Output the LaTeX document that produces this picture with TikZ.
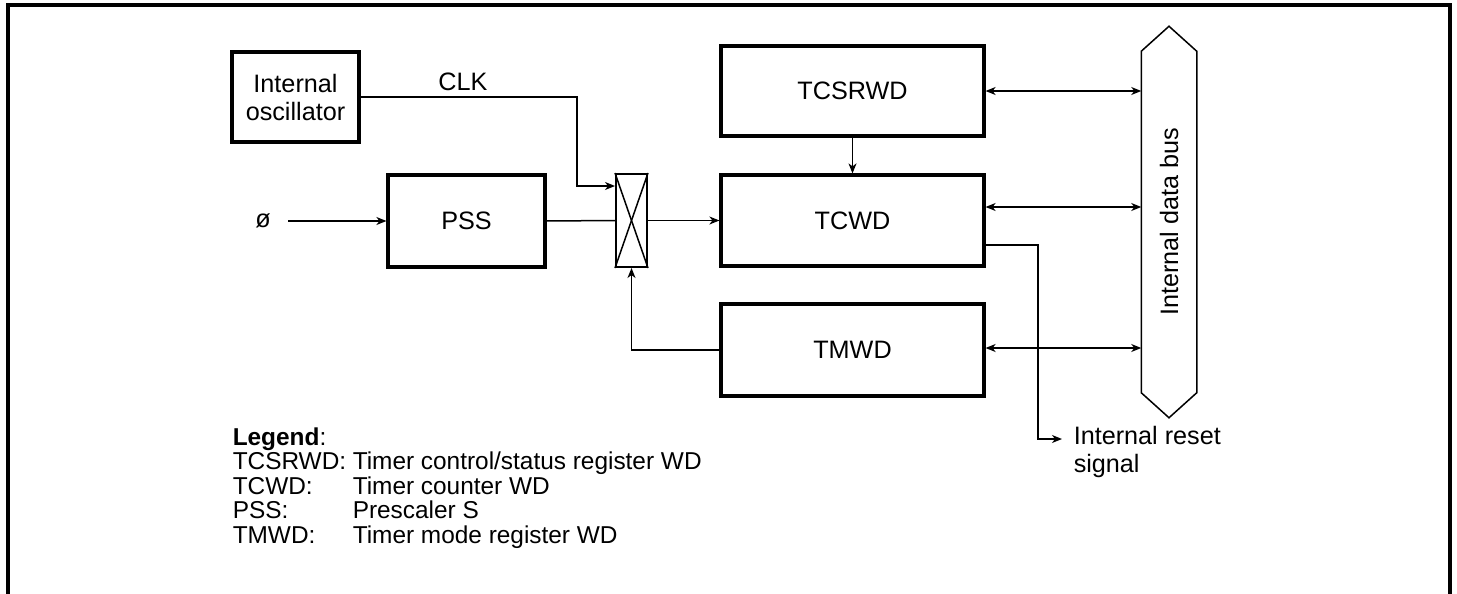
\documentclass[tikz,border=0pt]{standalone}
\usepackage{fontspec}
\setmainfont{Liberation Sans}
\usetikzlibrary{arrows.meta,calc}

\begin{document}
\begin{tikzpicture}[x=0.5pt,y=-0.5pt,line width=0.75pt,
  font=\fontsize{12.6}{14}\selectfont,
  blk/.style={draw,line width=1.6pt,inner sep=0pt,align=center},
  arr/.style={-{Stealth[length=5pt,width=4pt,inset=1.5pt]}},
  darr/.style={{Stealth[length=5pt,width=4pt,inset=1.5pt]}-{Stealth[length=5pt,width=4pt,inset=1.5pt]}},
  leg/.style={anchor=base west,inner sep=0pt,font=\fontsize{12.2}{14}\selectfont}]
\useasboundingbox (0,0) rectangle (1457,594);
% outer frame, open at the bottom
\draw[line width=2pt] (8,594) -- (8,5) -- (1450,5) -- (1450,594);

% blocks
\node[blk,minimum width=63.5pt,minimum height=45pt] (osc) at (295.5,97) {Internal\\oscillator};
\node[blk,minimum width=78.5pt,minimum height=46pt] (pss) at (466.5,221) {PSS};
\node[draw,line width=1pt,minimum width=15.5pt,minimum height=46.5pt,inner sep=0pt] (mux) at (631.5,220.5) {};
\node[blk,minimum width=131.5pt,minimum height=45pt] (tcsr) at (852.5,91) {TCSRWD};
\node[blk,minimum width=131.5pt,minimum height=45.5pt] (tcwd) at (852.5,220.5) {TCWD};
\node[blk,minimum width=131.5pt,minimum height=46pt] (tmwd) at (852.5,350) {TMWD};
\node[minimum width=27pt,minimum height=170pt,inner sep=0pt] (bus) at (1169,222) {\rotatebox{90}{Internal data bus}};
\node (phi) at (263,221) {ø};
\node (clk) at (463,82) {CLK};
\node[anchor=west,align=left,inner sep=0pt] (rsttxt) at (1073,452) {Internal reset\\signal};

% selector cross
\draw (mux.north west) -- (mux.south east);
\draw (mux.north east) -- (mux.south west);

% data bus outline
\draw (bus.south west) -- (bus.north west) -- ($(bus.north)+(0,-25)$) -- (bus.north east)
  -- (bus.south east) -- ($(bus.south)+(0,25)$) -- cycle;

% connections
\coordinate (clkin) at ($(mux.north west)+(0,13)$);
\coordinate (rst) at (1062,439);
\draw[arr] (osc.east) -| ([xshift=-19pt]clkin) -- (clkin);
\draw[arr] ([xshift=5pt]phi.east) -- (pss.west);
\draw (pss.east) -- (mux.west);
\draw[arr] (mux.east) -- (tcwd.west);
\draw[arr] (tmwd.west) -| (mux.south);
\draw[arr] (tcsr.south) -- (tcwd.north);
\draw[darr] (tcsr.east) -- (bus.west |- tcsr.east);
\draw[darr] ($(tcwd.east)+(0,-13.5)$) -- (bus.west |- {$(tcwd.east)+(0,-13.5)$});
\draw[darr] ($(tmwd.east)+(0,-2)$) -- (bus.west |- {$(tmwd.east)+(0,-2)$});
\draw[arr] ($(tcwd.east)+(0,24.5)$) -| ([xshift=-12pt]rst) -- (rst);

% legend
\node[leg] (lg0) at (232,445.5) {\textbf{Legend}:};
\node[leg] (lg1) at (232,469.5) {TCSRWD:};
\node[leg] (lg2) at (232,494.5) {TCWD:};
\node[leg] (lg3) at (232,518.5) {PSS:};
\node[leg] (lg4) at (232,543.5) {TMWD:};
\node[leg] (lt1) at (352,469.5) {Timer control/status register WD};
\node[leg] (lt2) at (352,494.5) {Timer counter WD};
\node[leg] (lt3) at (352,518.5) {Prescaler S};
\node[leg] (lt4) at (352,543.5) {Timer mode register WD};
\end{tikzpicture}
\end{document}
